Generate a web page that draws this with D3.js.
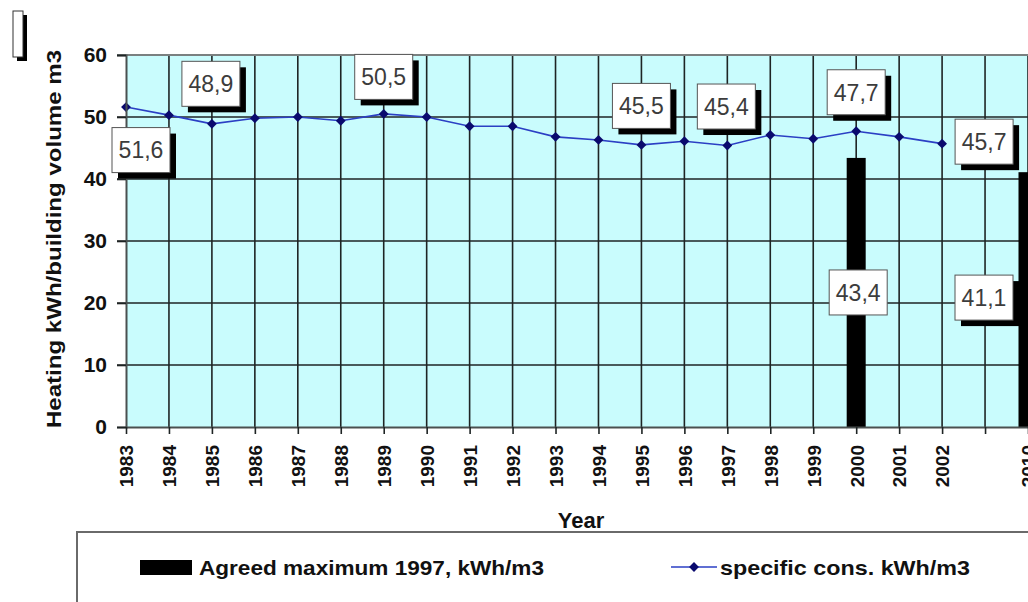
<!DOCTYPE html>
<html>
<head>
<meta charset="utf-8">
<script src="https://cdn.jsdelivr.net/npm/d3@7"></script>
<style>
  html, body { margin: 0; padding: 0; background: #ffffff; }
  svg { display: block; font-family: Arial, "Liberation Sans", sans-serif; }
</style>
</head>
<body>
<svg id="chart" width="1028" height="602"></svg>
<script>
// Categories on the x axis (one empty slot between 2002 and 2010)
const categories = ["1983","1984","1985","1986","1987","1988","1989","1990","1991","1992",
                    "1993","1994","1995","1996","1997","1998","1999","2000","2001","2002","gap","2010"];
const tickLabels = {"gap": ""};

// Specific heating consumption, kWh/m3
const consYears = ["1983","1984","1985","1986","1987","1988","1989","1990","1991","1992",
                   "1993","1994","1995","1996","1997","1998","1999","2000","2001","2002"];
const consValues = [51.6, 50.3, 48.9, 49.8, 50.0, 49.4, 50.5, 50.0, 48.5, 48.5,
                    46.8, 46.3, 45.5, 46.1, 45.4, 47.1, 46.5, 47.7, 46.8, 45.7];

// Agreed maximum (1997), kWh/m3
const maxYears = ["2000", "2010"];
const maxValues = [43.4, 41.1];

// Years whose consumption value is labelled, with label box offsets
const consLabelYears = ["1983","1985","1989","1995","1997","2000","2002"];
const consLabelOffsets = [[15, 43], [-1, -40], [0, -37], [0, -39], [-1, -39], [0, -39], [42, -2]];
const maxLabelOffsets = [[2, 0], [-44, -2]];
const maxLabelShadow = [false, true];

const yTicks = [0, 10, 20, 30, 40, 50, 60];

const svg = d3.select("#chart");
const plotLeft = 126, plotRight = 1028, plotTop = 55, plotBottom = 427;

const x = d3.scalePoint().domain(categories).range([plotLeft, plotRight]).padding(0);
const y = d3.scaleLinear().domain([0, 60]).range([plotBottom, plotTop]);

// plot area background
svg.append("rect")
  .attr("x", plotLeft).attr("y", plotTop)
  .attr("width", plotRight - plotLeft).attr("height", plotBottom - plotTop)
  .attr("fill", "#c9fcfd");

// horizontal gridlines (extend left as tick marks)
svg.append("g")
  .selectAll("line").data(yTicks.filter(t => t > 0 && t < 60)).join("line")
  .attr("x1", plotLeft - 9).attr("x2", plotRight)
  .attr("y1", d => y(d)).attr("y2", d => y(d))
  .attr("stroke", "#1e2424").attr("stroke-width", 1.6);

// vertical gridlines
svg.append("g")
  .selectAll("line").data(categories.slice(1)).join("line")
  .attr("x1", d => x(d)).attr("x2", d => x(d))
  .attr("y1", plotTop).attr("y2", plotBottom)
  .attr("stroke", "#1e2424").attr("stroke-width", 1.6);

// top border of plot area
svg.append("line")
  .attr("x1", plotLeft - 9).attr("x2", plotRight)
  .attr("y1", plotTop).attr("y2", plotTop)
  .attr("stroke", "#7a8080").attr("stroke-width", 2);

// bars: agreed maximum
const barW = 19;
svg.append("g")
  .selectAll("rect").data(maxYears.map((yr, i) => ({yr, v: maxValues[i]}))).join("rect")
  .attr("x", d => x(d.yr) - barW / 2)
  .attr("y", d => y(d.v))
  .attr("width", barW)
  .attr("height", d => y(0) - y(d.v))
  .attr("fill", "#000000");

// consumption line
const consData = consYears.map((yr, i) => ({yr, v: consValues[i]}));
svg.append("path")
  .datum(consData)
  .attr("d", d3.line().x(d => x(d.yr)).y(d => y(d.v)))
  .attr("fill", "none")
  .attr("stroke", "#2b3fc4")
  .attr("stroke-width", 1.6);

// diamond markers
const diamond = d3.symbol().type(d3.symbolDiamond2).size(62);
svg.append("g")
  .selectAll("path").data(consData).join("path")
  .attr("transform", d => `translate(${x(d.yr)},${y(d.v)})`)
  .attr("d", diamond)
  .attr("fill", "#0a0a6e");

// axes
const yAxis = svg.append("g")
  .attr("transform", `translate(${plotLeft},0)`)
  .call(d3.axisLeft(y).tickValues(yTicks).tickSize(9).tickFormat(d3.format("d")));
yAxis.select(".domain").attr("stroke", "#4a5050").attr("stroke-width", 2);
yAxis.selectAll(".tick line").attr("stroke", "#1e2424").attr("stroke-width", 1.6);
yAxis.selectAll(".tick text")
  .attr("x", -19)
  .attr("font-size", 21).attr("font-weight", "bold").attr("fill", "#111")
  .attr("font-family", "Arial, 'Liberation Sans', sans-serif");

const xAxis = svg.append("g")
  .attr("transform", `translate(0,${plotBottom})`)
  .call(d3.axisBottom(x).tickSize(7).tickSizeOuter(0).tickFormat(d => (d in tickLabels) ? tickLabels[d] : d));
xAxis.select(".domain").attr("stroke", "#4a5050").attr("stroke-width", 2);
xAxis.selectAll(".tick line").attr("stroke", "#1e2424").attr("stroke-width", 1.6);
xAxis.selectAll(".tick text")
  .attr("transform", "rotate(-90)")
  .attr("x", -18).attr("y", 0).attr("dy", "0.36em")
  .attr("text-anchor", "end")
  .attr("font-size", 19).attr("font-weight", "bold").attr("fill", "#111")
  .attr("font-family", "Arial, 'Liberation Sans', sans-serif");

// value label boxes
const fmt = v => d3.format(".1f")(v).replace(".", ",");
const boxW = 58, boxH = 45, sh = 6;
function labelBox(cx, cy, text, shadow) {
  const g = svg.append("g");
  if (shadow) {
    g.append("rect")
      .attr("x", cx - boxW / 2 + sh).attr("y", cy - boxH / 2 + sh)
      .attr("width", boxW).attr("height", boxH)
      .attr("fill", "#000");
  }
  g.append("rect")
    .attr("x", cx - boxW / 2).attr("y", cy - boxH / 2)
    .attr("width", boxW).attr("height", boxH)
    .attr("fill", "#ffffff").attr("stroke", "#555").attr("stroke-width", 1);
  g.append("text")
    .attr("x", cx).attr("y", cy).attr("dy", "0.36em")
    .attr("text-anchor", "middle")
    .attr("font-size", 23).attr("fill", "#3c3c3c")
    .text(text);
}

consLabelYears.forEach((yr, i) => {
  const v = consValues[consYears.indexOf(yr)];
  const [dx, dy] = consLabelOffsets[i];
  labelBox(x(yr) + dx, y(v) + dy, fmt(v), true);
});
maxYears.forEach((yr, i) => {
  const v = maxValues[i];
  const [dx, dy] = maxLabelOffsets[i];
  labelBox(x(yr) + dx, (y(v) + y(0)) / 2 + dy, fmt(v), maxLabelShadow[i]);
});

// y axis title
svg.append("text")
  .attr("transform", "translate(61,239) rotate(-90)")
  .attr("text-anchor", "middle")
  .attr("font-size", 21).attr("font-weight", "bold").attr("fill", "#111")
  .attr("textLength", 378).attr("lengthAdjust", "spacingAndGlyphs")
  .text("Heating  kWh/building volume m3");

// small empty text frame at top left
svg.append("rect").attr("x", 17).attr("y", 15).attr("width", 10).attr("height", 46).attr("fill", "#000");
svg.append("rect").attr("x", 13).attr("y", 11).attr("width", 10).attr("height", 46)
  .attr("fill", "#fff").attr("stroke", "#333").attr("stroke-width", 1);

// x axis title
svg.append("text")
  .attr("x", 581).attr("y", 528)
  .attr("text-anchor", "middle")
  .attr("font-size", 22).attr("font-weight", "bold").attr("fill", "#111")
  .text("Year");

// legend
const lg = svg.append("g");
lg.append("rect")
  .attr("x", 77).attr("y", 532).attr("width", 1000).attr("height", 100)
  .attr("fill", "#fff").attr("stroke", "#6a6a6a").attr("stroke-width", 2);
lg.append("rect")
  .attr("x", 140).attr("y", 560).attr("width", 52).attr("height", 15)
  .attr("fill", "#000");
lg.append("text")
  .attr("x", 199).attr("y", 575)
  .attr("font-size", 21).attr("font-weight", "bold").attr("fill", "#111")
  .attr("textLength", 345).attr("lengthAdjust", "spacingAndGlyphs")
  .text("Agreed maximum 1997, kWh/m3");
lg.append("line")
  .attr("x1", 671).attr("x2", 717).attr("y1", 567).attr("y2", 567)
  .attr("stroke", "#2b3fc4").attr("stroke-width", 1.6);
lg.append("path")
  .attr("transform", "translate(694,567)")
  .attr("d", diamond)
  .attr("fill", "#0a0a6e");
lg.append("text")
  .attr("x", 720).attr("y", 575)
  .attr("font-size", 21).attr("font-weight", "bold").attr("fill", "#111")
  .attr("textLength", 250).attr("lengthAdjust", "spacingAndGlyphs")
  .text("specific cons. kWh/m3");
</script>
</body>
</html>
